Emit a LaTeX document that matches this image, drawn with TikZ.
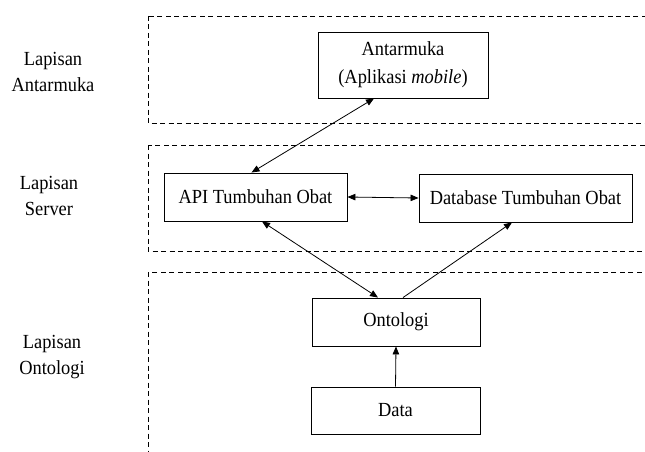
\documentclass[tikz,border=0pt]{standalone}
\usepackage{fontspec}
\setmainfont{Liberation Serif}[FakeStretch=0.92]
\usetikzlibrary{arrows.meta}

\begin{document}
\begin{tikzpicture}[x=1pt, y=-1pt,
  >={Triangle[length=8pt,width=6.5pt]},
  box/.style={draw, line width=0.9pt, align=center, inner sep=2pt,
    font=\fontsize{20}{28}\selectfont},
  layer/.style={draw, line width=0.8pt, dash pattern=on 5pt off 3.5pt},
  lbl/.style={align=center, font=\fontsize{20}{25.5}\selectfont},
  link/.style={line width=0.8pt}]
\useasboundingbox (0,0) rectangle (645,452);
\clip (0,0) rectangle (645,452);

% Draw layers
\draw[layer] (148,16) rectangle (660,123);
\draw[layer] (148,145) rectangle (660,251);
\draw[layer] (148,272) rectangle (660,470);

% Layer names
\node[lbl] (lui) at (53,72) {Lapisan\\Antarmuka};
\node[lbl] (lsrv) at (49,196) {Lapisan\\Server};
\node[lbl] (lont) at (52,357) {Lapisan\\Ontologi};

% Components
\node[box, minimum width=170pt, minimum height=66pt] (ui) at (403,65) {Antarmuka\\(Aplikasi \textit{mobile})};
\node[box, minimum width=183pt, minimum height=48pt] (api) at (255.5,197) {API Tumbuhan Obat};
\node[box, minimum width=213pt, minimum height=48pt] (db) at (525.5,198) {Database Tumbuhan Obat};
\node[box, minimum width=168pt, minimum height=48pt] (onto) at (396,322) {Ontologi};
\node[box, minimum width=169pt, minimum height=47pt] (data) at (395.5,410.5) {Data};

% Connections
\draw[link, <->] ([xshift=-4pt]api.north) -- ([xshift=-29pt]ui.south);
\draw[link, <->] (api.east) -- (db.west);
\draw[link, <->] ([xshift=6.5pt]api.south) -- ([xshift=-18pt]onto.north);
\draw[link, ->] ([xshift=7pt]onto.north) -- ([xshift=-13.5pt]db.south);
\draw[link, ->] (data.north) -- (onto.south);
\end{tikzpicture}
\end{document}
